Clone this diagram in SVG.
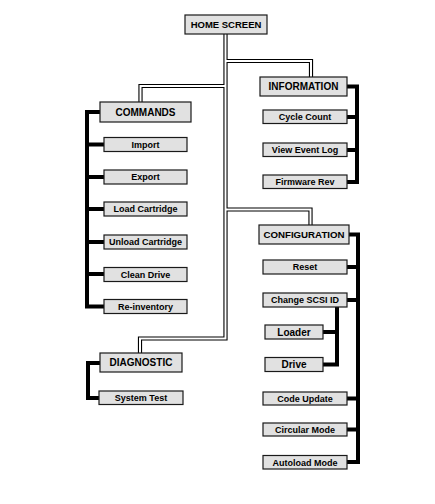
<svg xmlns="http://www.w3.org/2000/svg" width="435" height="504" viewBox="0 0 435 504">
<style>
.b{fill:#e1e1e1;stroke:#1a1a1a;stroke-width:1.2}
.t{font-family:"Liberation Sans",Arial,sans-serif;font-weight:bold;font-size:9px;text-anchor:middle;fill:#000}
.h{font-size:10px}
.dl{fill:none;stroke:#000;stroke-width:4.2}
.dw{fill:none;stroke:#fff;stroke-width:2}
.k{fill:none;stroke:#000;stroke-width:4}
</style>
<rect width="435" height="504" fill="#fff"/>
<g id="connectors">
<g id="double">
<path class="dl" d="M225.5,34 V338.5 H140 V353"/>
<path class="dl" d="M225.5,86 H140.5 V102"/>
<path class="dl" d="M225.5,61 H311 V77"/>
<path class="dl" d="M225.5,209.5 H310.5 V225"/>
<path class="dw" d="M225.5,34 V338.5 H140 V353"/>
<path class="dw" d="M225.5,86 H140.5 V102"/>
<path class="dw" d="M225.5,61 H311 V77"/>
<path class="dw" d="M225.5,209.5 H310.5 V225"/>
</g>
<path class="k" d="M100,112 H87 V306.5 H104 M87,144.5 H104 M87,177 H104 M87,209 H104 M87,242 H104 M87,274 H104"/>
<path class="k" d="M347,86.5 H357 V182 H347 M357,117 H347 M357,150 H347"/>
<path class="k" d="M349,234.5 H358 V462 H347 M358,267 H347 M358,300 H347 M358,398.5 H347 M358,429.5 H347"/>
<path class="k" d="M337,307 V364.5 H323 M337,332 H323"/>
<path class="k" d="M100,363 H88 V398 H99"/>
</g>
<g id="home"><rect class="b" x="185" y="15" width="82" height="19"/><text class="t" style="font-size:9.5px" x="226" y="28">HOME SCREEN</text></g>
<g id="commands"><rect class="b" x="100" y="102" width="91" height="20"/><text class="t h" x="145.5" y="115.6">COMMANDS</text></g>
<g id="import"><rect class="b" x="104" y="137.5" width="83" height="14"/><text class="t" x="145.5" y="147.8">Import</text></g>
<g id="export"><rect class="b" x="104" y="170" width="83" height="14"/><text class="t" x="145.5" y="180.3">Export</text></g>
<g id="load"><rect class="b" x="104" y="202" width="83" height="14"/><text class="t" x="145.5" y="212.3">Load Cartridge</text></g>
<g id="unload"><rect class="b" x="104" y="235" width="83" height="14"/><text class="t" x="145.5" y="245.3">Unload Cartridge</text></g>
<g id="clean"><rect class="b" x="104" y="267.5" width="83" height="14"/><text class="t" x="145.5" y="277.8">Clean Drive</text></g>
<g id="reinventory"><rect class="b" x="104" y="299.5" width="83" height="14"/><text class="t" x="145.5" y="309.8">Re-inventory</text></g>
<g id="diagnostic"><rect class="b" x="100" y="353" width="82" height="19"/><text class="t h" x="141" y="366.2">DIAGNOSTIC</text></g>
<g id="systemtest"><rect class="b" x="99" y="391" width="84" height="13.5"/><text class="t" x="141" y="401">System Test</text></g>
<g id="information"><rect class="b" x="260" y="77" width="87" height="19"/><text class="t h" x="303.5" y="90.2">INFORMATION</text></g>
<g id="cyclecount"><rect class="b" x="263" y="110" width="84" height="13.5"/><text class="t" x="305" y="120">Cycle Count</text></g>
<g id="eventlog"><rect class="b" x="263" y="143" width="84" height="13.5"/><text class="t" x="305" y="153">View Event Log</text></g>
<g id="firmware"><rect class="b" x="263" y="175" width="84" height="13.5"/><text class="t" x="305" y="185">Firmware Rev</text></g>
<g id="configuration"><rect class="b" x="259" y="225" width="90" height="19"/><text class="t" style="font-size:9.7px" x="304" y="238.1">CONFIGURATION</text></g>
<g id="reset"><rect class="b" x="263" y="260" width="84" height="14"/><text class="t" x="305" y="270.3">Reset</text></g>
<g id="scsi"><rect class="b" x="263" y="293" width="84" height="14"/><text class="t" x="305" y="303.3">Change SCSI ID</text></g>
<g id="loader"><rect class="b" x="265" y="325" width="58" height="14"/><text class="t h" x="294" y="335.6">Loader</text></g>
<g id="drive"><rect class="b" x="265" y="357.5" width="58" height="14"/><text class="t h" x="294" y="368.1">Drive</text></g>
<g id="codeupdate"><rect class="b" x="263" y="392" width="84" height="13"/><text class="t" x="305" y="401.8">Code Update</text></g>
<g id="circular"><rect class="b" x="263" y="423" width="84" height="13"/><text class="t" x="305" y="432.8">Circular Mode</text></g>
<g id="autoload"><rect class="b" x="263" y="455.5" width="84" height="13.5"/><text class="t" x="305" y="465.5">Autoload Mode</text></g>
</svg>
